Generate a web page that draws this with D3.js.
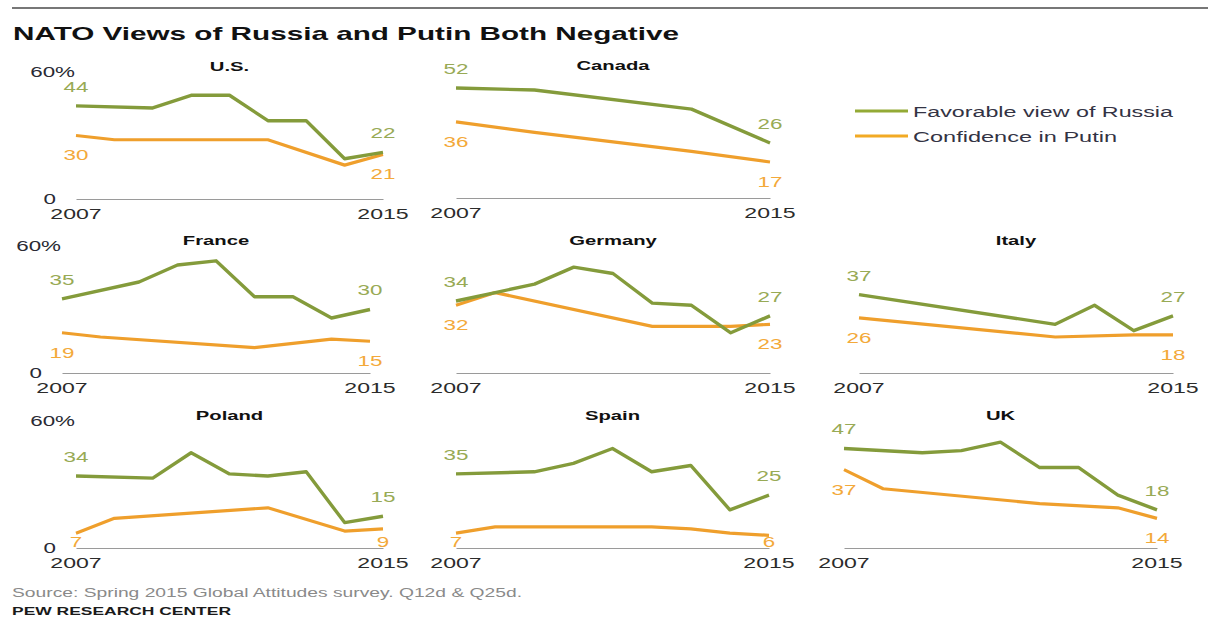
<!DOCTYPE html>
<html>
<head>
<meta charset="utf-8">
<script src="https://cdn.jsdelivr.net/npm/d3@7"></script>
<style>
  html, body { margin: 0; padding: 0; background: #fff; }
  svg { display: block; font-family: "Liberation Sans", Arial, sans-serif; }
</style>
</head>
<body>
<svg id="chart" width="1208" height="630"></svg>
<script>
// Survey years shared by every small multiple
const years = [2007, 2008, 2009, 2010, 2011, 2012, 2013, 2014, 2015];
const yTicks = [0, 60];
const countries = ["U.S.", "Canada", "France", "Germany", "Italy", "Poland", "Spain", "UK"];
const seriesNames = ["Favorable view of Russia", "Confidence in Putin"];

// Favorable view of Russia (%), null = not asked that year
const favUS      = [44, null, 43, 49, 49, 37, 37, 19, 22];
const favCanada  = [52, null, 51, null, null, null, 42, null, 26];
const favFrance  = [35, null, 43, 51, 53, 36, 36, 26, 30];
const favGermany = [34, 38, 42, 50, 47, 33, 32, 19, 27];
const favItaly   = [37, null, null, null, null, 23, 32, 20, 27];
const favPoland  = [34, null, 33, 45, 35, 34, 36, 12, 15];
const favSpain   = [35, null, 36, 40, 47, 36, 39, 18, 25];
const favUK      = [47, null, 45, 46, 50, 38, 38, 25, 18];

// Confidence in Putin (%)
const confUS      = [30, 28, 28, null, null, 28, null, 16, 21];
const confCanada  = [36, null, 31, null, null, null, 22, null, 17];
const confFrance  = [19, 17, null, null, null, 12, null, 16, 15];
const confGermany = [32, 38, null, null, null, 22, null, 22, 23];
const confItaly   = [26, null, null, null, null, 17, null, 18, 18];
const confPoland  = [7, 14, null, null, null, 19, null, 8, 9];
const confSpain   = [7, 10, null, null, null, 10, 9, 7, 6];
const confUK      = [37, 28, null, null, null, 21, null, 19, 14];

const favorable = [favUS, favCanada, favFrance, favGermany, favItaly, favPoland, favSpain, favUK];
const confidence = [confUS, confCanada, confFrance, confGermany, confItaly, confPoland, confSpain, confUK];

// Panel frames: left/right ends of each x axis and its baseline
const panelLeft  = [76, 456, 62, 456, 859, 76, 456, 844];
const panelRight = [383, 770, 370, 770, 1173, 383, 769, 1157];
const panelBase  = [199, 198, 373, 373, 373, 548, 548, 548];
const showYLabels = [true, false, true, false, false, true, false, false];
const panelHeight = 127;

const GREEN = "#849b3b", ORANGE = "#ef9f2c";
const GREEN_TXT = "#98aa55", ORANGE_TXT = "#f3a93a";
const INK = "#2a2a33";

const svg = d3.select("#chart");

// Text helper: the typeface is drawn horizontally widened
function label(parent, x, y, str, o = {}) {
  const t = parent.append("text")
    .attr("transform", `translate(${x},${y}) scale(${o.sx || 1.6},1)`)
    .attr("dy", o.dy || "0.35em")
    .attr("text-anchor", o.anchor || "middle")
    .attr("font-size", o.size || 14)
    .attr("font-weight", o.weight || "normal")
    .attr("fill", o.fill || INK)
    .text(str);
  return t;
}

// Top rule and headline
svg.append("line").attr("x1", 12).attr("x2", 1208).attr("y1", 8).attr("y2", 8)
  .attr("stroke", "#4a4a4a").attr("stroke-width", 1.6);

svg.append("text")
  .attr("x", 13).attr("y", 40)
  .attr("font-size", 19).attr("font-weight", "bold").attr("fill", "#111")
  .attr("textLength", 666).attr("lengthAdjust", "spacingAndGlyphs")
  .text("NATO Views of Russia and Putin Both Negative");

// Small multiples
countries.forEach((name, i) => {
  const g = svg.append("g");
  const x = d3.scaleLinear().domain([years[0], years[years.length - 1]]).range([panelLeft[i], panelRight[i]]);
  const y = d3.scaleLinear().domain(d3.extent(yTicks)).range([panelBase[i], panelBase[i] - panelHeight]);

  // Baseline axis (no ticks, just the rule)
  const axis = d3.axisBottom(x).tickValues([]).tickSizeOuter(0);
  const ax = g.append("g").attr("transform", `translate(0,${panelBase[i]})`).call(axis);
  ax.select(".domain").attr("stroke", "#9a9a9a").attr("stroke-width", 1.2);

  // Year labels at both ends
  [years[0], years[years.length - 1]].forEach(yr => {
    label(g, x(yr), panelBase[i] + 15.5, String(yr), { sx: 1.65, size: 14, fill: "#2b2b2b" });
  });

  // Y labels only on the left column
  if (showYLabels[i]) {
    label(g, panelLeft[i] - 1, y(yTicks[1]), yTicks[1] + "%", { anchor: "end", sx: 1.6, size: 14 });
    label(g, panelLeft[i] - 20, y(yTicks[0]), String(yTicks[0]), { anchor: "end", sx: 1.6, size: 14 });
  }

  // Panel title
  const cx = (panelLeft[i] + panelRight[i]) / 2;
  label(g, cx, panelBase[i] - 133, name, { sx: 1.5, size: 13.5, weight: "bold", fill: "#111" });

  const line = d3.line().x(d => x(d.year)).y(d => y(d.value));
  const pts = arr => years.map((yr, k) => ({ year: yr, value: arr[k] })).filter(d => d.value != null);

  const fav = pts(favorable[i]);
  const conf = pts(confidence[i]);

  g.append("path").datum(conf).attr("d", line)
    .attr("fill", "none").attr("stroke", ORANGE).attr("stroke-width", 3.2)
    .attr("stroke-linejoin", "round");
  g.append("path").datum(fav).attr("d", line)
    .attr("fill", "none").attr("stroke", GREEN).attr("stroke-width", 3.4)
    .attr("stroke-linejoin", "round");

  // End-point value labels: favorable above, confidence below
  [fav[0], fav[fav.length - 1]].forEach(d => {
    label(g, x(d.year), y(d.value) - 19, String(d.value), { fill: GREEN_TXT, sx: 1.6, size: 14 });
  });
  [conf[0], conf[conf.length - 1]].forEach(d => {
    const ly = Math.min(y(d.value) + 20, panelBase[i] - 6);
    label(g, x(d.year), ly, String(d.value), { fill: ORANGE_TXT, sx: 1.6, size: 14 });
  });
});

// Legend
const legend = svg.append("g");
const legendColors = ["#93aa35", "#f2aa24"];
const legendWidths = [260, 204];
seriesNames.forEach((s, k) => {
  const ly = 111 + k * 25;
  legend.append("line").attr("x1", 855).attr("x2", 908).attr("y1", ly).attr("y2", ly)
    .attr("stroke", legendColors[k]).attr("stroke-width", 3);
  legend.append("text").attr("x", 913).attr("y", ly).attr("dy", "0.36em")
    .attr("font-size", 15.5).attr("fill", "#333344")
    .attr("textLength", legendWidths[k]).attr("lengthAdjust", "spacingAndGlyphs")
    .text(s);
});

// Footer
svg.append("text").attr("x", 12).attr("y", 597)
  .attr("font-size", 12).attr("fill", "#8a8a8a")
  .attr("textLength", 510).attr("lengthAdjust", "spacingAndGlyphs")
  .text("Source: Spring 2015 Global Attitudes survey. Q12d & Q25d.");
svg.append("text").attr("x", 12).attr("y", 614.5)
  .attr("font-size", 10.5).attr("font-weight", "bold").attr("fill", "#1a1a1a")
  .attr("textLength", 219).attr("lengthAdjust", "spacingAndGlyphs")
  .text("PEW RESEARCH CENTER");
</script>
</body>
</html>
